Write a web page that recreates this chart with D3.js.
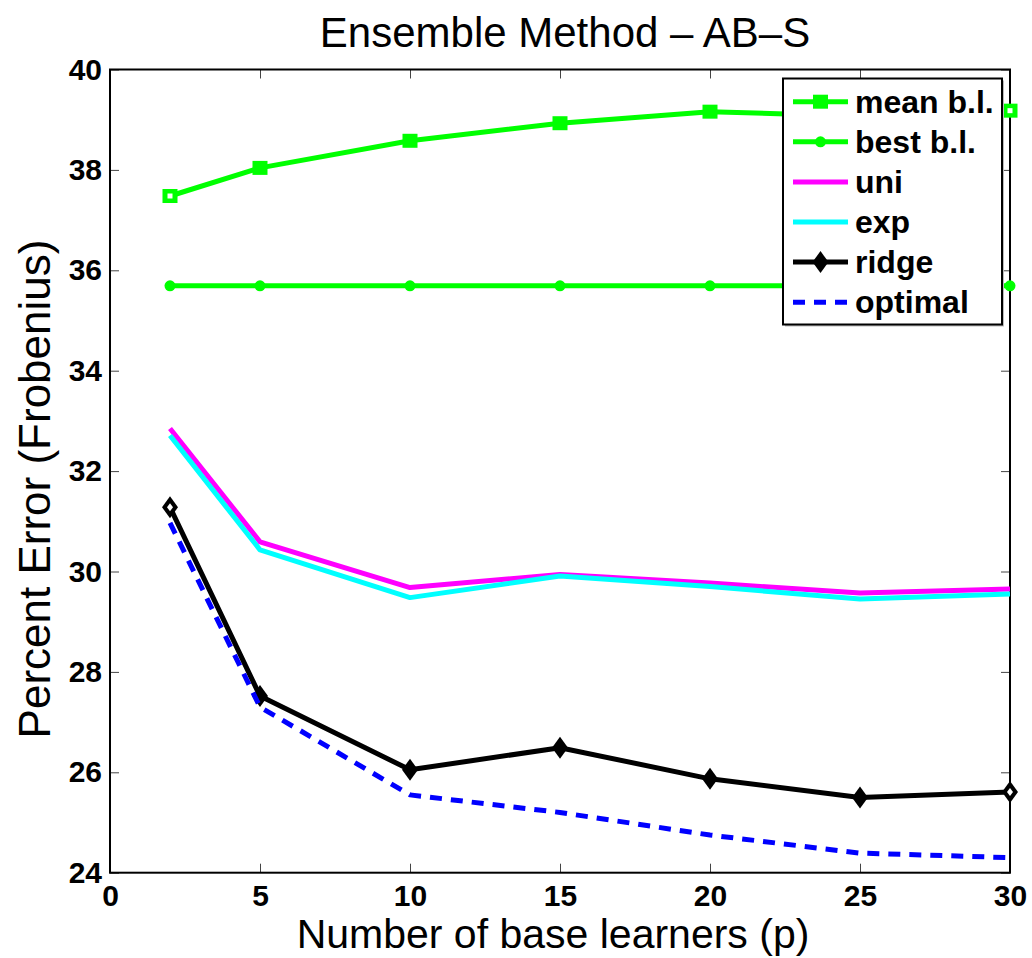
<!DOCTYPE html>
<html>
<head>
<meta charset="utf-8">
<script src="https://cdn.jsdelivr.net/npm/d3@7/dist/d3.min.js"></script>
<style>
  body { margin: 0; background: #fff; }
  text { font-family: "Liberation Sans", Arial, Helvetica, sans-serif; }
  .tick line { stroke: #444; stroke-width: 1; }
</style>
</head>
<body>
<div id="app"></div>
<script>
// values
var pValues = [2, 5, 10, 15, 20, 25, 30]
var meanBL  = [37.48, 38.04, 38.58, 38.93, 39.16, 39.07, 39.18]
var bestBL  = [35.69, 35.69, 35.69, 35.69, 35.69, 35.69, 35.69]
var uni     = [32.85, 30.59, 29.68, 29.94, 29.77, 29.57, 29.65]
var expW    = [32.71, 30.43, 29.48, 29.91, 29.70, 29.45, 29.55]
var ridge   = [31.28, 27.52, 26.05, 26.49, 25.87, 25.50, 25.61]
var optimal = [30.97, 27.30, 25.55, 25.20, 24.75, 24.39, 24.30]
var xTicks = [0, 5, 10, 15, 20, 25, 30]
var yTicks = [24, 26, 28, 30, 32, 34, 36, 38, 40]

var series = [
  {name: "mean b.l.", values: meanBL,  colour: "#00ff00", marker: "square"},
  {name: "best b.l.", values: bestBL,  colour: "#00ff00", marker: "dot"},
  {name: "uni",       values: uni,     colour: "#ff00ff", marker: null},
  {name: "exp",       values: expW,    colour: "#00ffff", marker: null},
  {name: "ridge",     values: ridge,   colour: "#000000", marker: "diamond"},
  {name: "optimal",   values: optimal, colour: "#0000ff", marker: null, dash: "12,9"}
]

var W = 1032, H = 958
var plot = {left: 110, right: 1010, top: 69.5, bottom: 872.7}

var svg = d3.select("#app").append("svg").attr("width", W).attr("height", H)

var x = d3.scaleLinear().domain([0, 30]).range([plot.left, plot.right])
var y = d3.scaleLinear().domain([24, 40]).range([plot.bottom, plot.top])

// axes, ticks pointing inwards like matlab
function styleAxis(g){
  g.select(".domain").remove()
  g.selectAll(".tick text").attr("font-size", 30).attr("font-weight", "bold").attr("fill", "#000")
}

svg.append("g").attr("transform", "translate(0," + plot.bottom + ")")
  .call(d3.axisBottom(x).tickValues(xTicks).tickSize(-9).tickPadding(12))
  .call(styleAxis)
svg.append("g").attr("transform", "translate(0," + plot.top + ")")
  .call(d3.axisTop(x).tickValues(xTicks).tickSize(-9).tickFormat(""))
  .call(styleAxis)
svg.append("g").attr("transform", "translate(" + plot.left + ",0)")
  .call(d3.axisLeft(y).tickValues(yTicks).tickSize(-9).tickPadding(8))
  .call(styleAxis)
svg.append("g").attr("transform", "translate(" + plot.right + ",0)")
  .call(d3.axisRight(y).tickValues(yTicks).tickSize(-9).tickFormat(""))
  .call(styleAxis)

svg.append("rect")
  .attr("x", plot.left).attr("y", plot.top)
  .attr("width", plot.right - plot.left).attr("height", plot.bottom - plot.top)
  .attr("fill", "none").attr("stroke", "#000").attr("stroke-width", 2)

function drawMarker(g, type, cx, cy, colour, hollow){
  if (type == "square"){
    g.append("rect").attr("x", cx - 7.5).attr("y", cy - 7).attr("width", 15).attr("height", 14).attr("fill", colour)
    if (hollow) g.append("rect").attr("x", cx - 2.5).attr("y", cy - 2.5).attr("width", 5).attr("height", 5).attr("fill", "#fff")
  } else if (type == "dot"){
    g.append("circle").attr("cx", cx).attr("cy", cy).attr("r", 5.5).attr("fill", colour)
  } else if (type == "diamond"){
    var d = "M" + cx + "," + (cy - 11) + "L" + (cx + 8) + "," + cy + "L" + cx + "," + (cy + 11) + "L" + (cx - 8) + "," + cy + "Z"
    g.append("path").attr("d", d).attr("fill", colour)
    if (hollow){
      var d2 = "M" + cx + "," + (cy - 4) + "L" + (cx + 3) + "," + cy + "L" + cx + "," + (cy + 4) + "L" + (cx - 3) + "," + cy + "Z"
      g.append("path").attr("d", d2).attr("fill", "#fff")
    }
  }
}

var line = d3.line().x((d, i) => x(pValues[i])).y(d => y(d))

series.forEach(function(s){
  var g = svg.append("g")
  g.append("path").datum(s.values)
    .attr("d", line)
    .attr("fill", "none")
    .attr("stroke", s.colour)
    .attr("stroke-width", 5)
    .attr("stroke-linejoin", "round")
    .attr("stroke-dasharray", s.dash || null)
  if (s.marker){
    s.values.forEach(function(v, i){
      drawMarker(g, s.marker, x(pValues[i]), y(v), s.colour, i == 0 || i == s.values.length - 1)
    })
  }
})

// legend
var leg = {x: 783, y: 78.5, w: 219, h: 246, row: 40.1, first: 101.7}
svg.append("rect").attr("x", leg.x + 2).attr("y", leg.y + 2).attr("width", leg.w).attr("height", leg.h).attr("fill", "#bbb")
svg.append("rect").attr("x", leg.x).attr("y", leg.y).attr("width", leg.w).attr("height", leg.h)
  .attr("fill", "#fff").attr("stroke", "#000").attr("stroke-width", 2)

series.forEach(function(s, i){
  var ly = leg.first + i * leg.row
  var g = svg.append("g")
  g.append("line").attr("x1", 793).attr("x2", 848).attr("y1", ly).attr("y2", ly)
    .attr("stroke", s.colour).attr("stroke-width", 5)
    .attr("stroke-dasharray", s.dash ? "12,9" : null)
  if (s.marker) drawMarker(g, s.marker, 820.5, ly, s.colour, false)
  g.append("text").attr("x", 855).attr("y", ly + 11)
    .attr("font-size", 32).attr("font-weight", "bold").text(s.name)
})

// titles
svg.append("text").attr("x", 565).attr("y", 47).attr("text-anchor", "middle")
  .attr("font-size", 42).text("Ensemble Method \u2013 AB\u2013S")
svg.append("text").attr("x", 553).attr("y", 948).attr("text-anchor", "middle")
  .attr("font-size", 41).text("Number of base learners (p)")
svg.append("text").attr("text-anchor", "middle")
  .attr("transform", "translate(50,489) rotate(-90)")
  .attr("font-size", 44).text("Percent Error (Frobenius)")
</script>
</body>
</html>
